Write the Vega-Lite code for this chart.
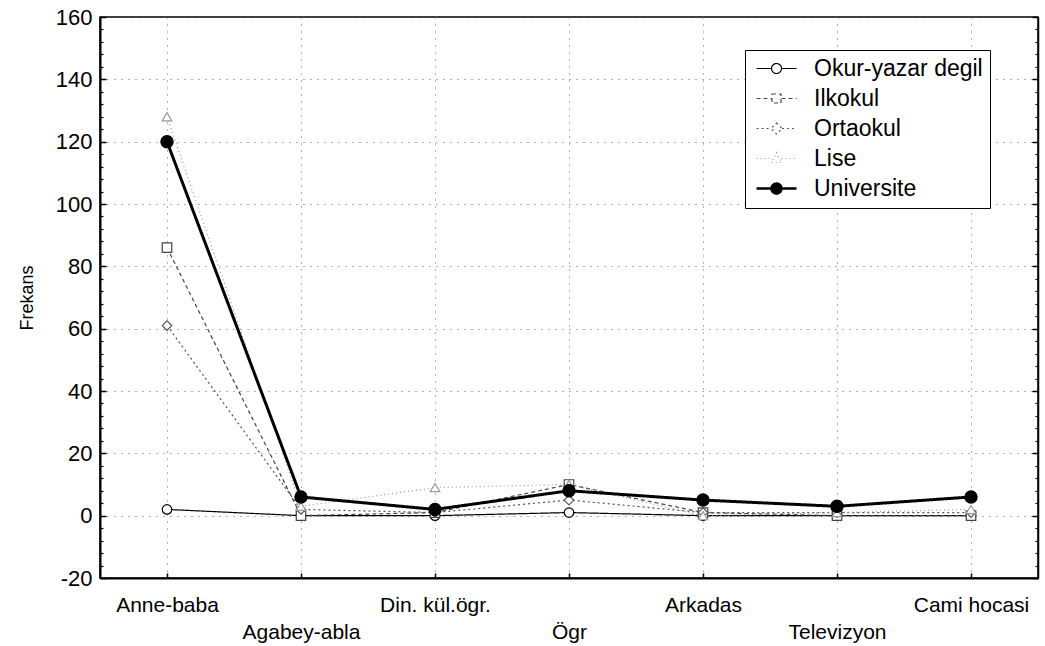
{
  "$schema": "https://vega.github.io/schema/vega-lite/v6.json",
  "width": 938,
  "height": 561,
  "autosize": {"type": "none"},
  "padding": {"left": 100, "top": 17, "right": 7, "bottom": 68},
  "background": "white",
  "data": {
    "values": [
      {"kaynak": "Anne-baba", "egitim": "Okur-yazar degil", "frekans": 2},
      {"kaynak": "Agabey-abla", "egitim": "Okur-yazar degil", "frekans": 0},
      {"kaynak": "Din. kül.ögr.", "egitim": "Okur-yazar degil", "frekans": 0},
      {"kaynak": "Ögr", "egitim": "Okur-yazar degil", "frekans": 1},
      {"kaynak": "Arkadas", "egitim": "Okur-yazar degil", "frekans": 0},
      {"kaynak": "Televizyon", "egitim": "Okur-yazar degil", "frekans": 0},
      {"kaynak": "Cami hocasi", "egitim": "Okur-yazar degil", "frekans": 0},
      {"kaynak": "Anne-baba", "egitim": "Ilkokul", "frekans": 86},
      {"kaynak": "Agabey-abla", "egitim": "Ilkokul", "frekans": 0},
      {"kaynak": "Din. kül.ögr.", "egitim": "Ilkokul", "frekans": 1},
      {"kaynak": "Ögr", "egitim": "Ilkokul", "frekans": 10},
      {"kaynak": "Arkadas", "egitim": "Ilkokul", "frekans": 1},
      {"kaynak": "Televizyon", "egitim": "Ilkokul", "frekans": 0},
      {"kaynak": "Cami hocasi", "egitim": "Ilkokul", "frekans": 0},
      {"kaynak": "Anne-baba", "egitim": "Ortaokul", "frekans": 61},
      {"kaynak": "Agabey-abla", "egitim": "Ortaokul", "frekans": 2},
      {"kaynak": "Din. kül.ögr.", "egitim": "Ortaokul", "frekans": 1},
      {"kaynak": "Ögr", "egitim": "Ortaokul", "frekans": 5},
      {"kaynak": "Arkadas", "egitim": "Ortaokul", "frekans": 1},
      {"kaynak": "Televizyon", "egitim": "Ortaokul", "frekans": 1},
      {"kaynak": "Cami hocasi", "egitim": "Ortaokul", "frekans": 1},
      {"kaynak": "Anne-baba", "egitim": "Lise", "frekans": 128},
      {"kaynak": "Agabey-abla", "egitim": "Lise", "frekans": 3},
      {"kaynak": "Din. kül.ögr.", "egitim": "Lise", "frekans": 9},
      {"kaynak": "Ögr", "egitim": "Lise", "frekans": 10},
      {"kaynak": "Arkadas", "egitim": "Lise", "frekans": 0},
      {"kaynak": "Televizyon", "egitim": "Lise", "frekans": 1},
      {"kaynak": "Cami hocasi", "egitim": "Lise", "frekans": 2},
      {"kaynak": "Anne-baba", "egitim": "Universite", "frekans": 120},
      {"kaynak": "Agabey-abla", "egitim": "Universite", "frekans": 6},
      {"kaynak": "Din. kül.ögr.", "egitim": "Universite", "frekans": 2},
      {"kaynak": "Ögr", "egitim": "Universite", "frekans": 8},
      {"kaynak": "Arkadas", "egitim": "Universite", "frekans": 5},
      {"kaynak": "Televizyon", "egitim": "Universite", "frekans": 3},
      {"kaynak": "Cami hocasi", "egitim": "Universite", "frekans": 6}
    ]
  },
  "encoding": {
    "x": {
      "field": "kaynak",
      "type": "ordinal",
      "sort": ["Anne-baba", "Agabey-abla", "Din. kül.ögr.", "Ögr", "Arkadas", "Televizyon", "Cami hocasi"],
      "scale": {"type": "point", "padding": 0.5},
      "axis": {
        "title": null,
        "labelAngle": 0,
        "labelFontSize": 21,
        "labelLineHeight": 27,
        "labelBaseline": "top",
        "labelPadding": 21,
        "labelExpr": "indexof(['Agabey-abla','Ögr','Televizyon'], datum.value) >= 0 ? ['', datum.value] : datum.value",
        "tickSize": -5,
        "tickWidth": 1.5,
        "tickColor": "black",
        "domainColor": "black",
        "domainWidth": 2,
        "grid": true,
        "gridDash": [1, 6],
        "gridColor": "#666666",
        "gridWidth": 1
      }
    },
    "y": {
      "field": "frekans",
      "type": "quantitative",
      "scale": {"domain": [-20, 160], "nice": false, "zero": false}
    }
  },
  "layer": [
    {
      "mark": {"type": "line", "strokeJoin": "round"},
      "encoding": {
        "y": {
          "field": "frekans",
          "type": "quantitative",
          "axis": {
            "orient": "left",
            "title": "Frekans",
            "titleFontSize": 18,
            "titleFontWeight": "normal",
            "titlePadding": 19,
            "values": [-20, 0, 20, 40, 60, 80, 100, 120, 140, 160],
            "labelExpr": "datum.value + ''",
            "labelFontSize": 22,
            "labelPadding": 14,
            "tickSize": -6,
            "tickWidth": 1.5,
            "tickColor": "black",
            "domainColor": "black",
            "domainWidth": 2,
            "grid": true,
            "gridDash": [1, 6],
            "gridColor": "#666666",
            "gridWidth": 1
          }
        },
        "stroke": {
          "field": "egitim",
          "type": "nominal",
          "scale": {
            "domain": ["Okur-yazar degil", "Ilkokul", "Ortaokul", "Lise", "Universite"],
            "range": ["#000000", "#444444", "#555555", "#999999", "#000000"]
          },
          "legend": {
            "title": null,
            "orient": "none",
            "legendX": 645,
            "legendY": 33,
            "strokeColor": "black",
            "fillColor": "white",
            "padding": 7,
            "labelFontSize": 23,
            "labelLimit": 400,
            "labelColor": "black",
            "symbolType": "circle",
            "symbolSize": 400,
            "symbolOffset": 13,
            "labelOffset": 26,
            "rowPadding": 6,
            "symbolStrokeWidth": 1.2,
            "encode": {
              "symbols": {
                "update": {
                  "shape": {"signal": "datum.value === 'Ilkokul' ? 'M-2,0H-0.5M0.5,0H2M-0.45,-0.45H0.45V0.45H-0.45Z' : datum.value === 'Ortaokul' ? 'M-2,0H-0.55M0.55,0H2M0,-0.55L0.55,0L0,0.55L-0.55,0Z' : datum.value === 'Lise' ? 'M-2,0H-0.5M0.5,0H2M0,-0.6L0.5,0.4H-0.5Z' : 'M-2,0H-0.5M0.5,0H2M0.5,0A0.5,0.5 0 1,1 -0.5,0A0.5,0.5 0 1,1 0.5,0Z'"},
                  "fill": {"signal": "datum.value === 'Universite' ? 'black' : 'white'"},
                  "strokeDash": {"signal": "datum.value === 'Ilkokul' ? [3,3] : datum.value === 'Ortaokul' ? [2,3] : datum.value === 'Lise' ? [1,2] : datum.value === 'Universite' ? [9,6] : [1,0]"},
                  "strokeWidth": {"signal": "datum.value === 'Universite' ? 2.5 : 1.2"}
                }
              }
            }
          }
        },
        "strokeDash": {
          "field": "egitim",
          "type": "nominal",
          "scale": {
            "domain": ["Okur-yazar degil", "Ilkokul", "Ortaokul", "Lise", "Universite"],
            "range": [[1, 0], [4, 3], [2, 3], [1, 3], [1, 0]]
          },
          "legend": null
        },
        "strokeWidth": {
          "condition": {"test": "datum.egitim === 'Universite'", "value": 3},
          "value": 1.2
        }
      }
    },
    {
      "mark": {"type": "point", "filled": false, "strokeWidth": 1.2, "opacity": 1},
      "encoding": {
        "y": {
          "field": "frekans",
          "type": "quantitative",
          "axis": {
            "orient": "right",
            "title": null,
            "labels": false,
            "values": [-20, 0, 20, 40, 60, 80, 100, 120, 140, 160],
            "tickSize": -6,
            "tickWidth": 1.5,
            "tickColor": "black",
            "domainColor": "black",
            "domainWidth": 1.5,
            "grid": false
          }
        },
        "stroke": {
          "condition": [
            {"test": "datum.egitim === 'Ilkokul'", "value": "#444444"},
            {"test": "datum.egitim === 'Ortaokul'", "value": "#555555"},
            {"test": "datum.egitim === 'Lise'", "value": "#999999"}
          ],
          "value": "black"
        },
        "fill": {
          "condition": {"test": "datum.egitim === 'Universite'", "value": "black"},
          "value": "white"
        },
        "shape": {
          "condition": [
            {"test": "datum.egitim === 'Ilkokul'", "value": "square"},
            {"test": "datum.egitim === 'Ortaokul'", "value": "diamond"},
            {"test": "datum.egitim === 'Lise'", "value": "triangle-up"}
          ],
          "value": "circle"
        },
        "size": {
          "condition": {"test": "datum.egitim === 'Universite'", "value": 150},
          "value": 90
        }
      }
    },
    {
      "mark": {"type": "point", "opacity": 0},
      "encoding": {
        "y": {
          "field": "frekans",
          "type": "quantitative",
          "axis": {
            "orient": "left",
            "title": null,
            "labels": false,
            "domain": false,
            "grid": false,
            "values": [-16, -12, -8, -4, 4, 8, 12, 16, 24, 28, 32, 36, 44, 48, 52, 56, 64, 68, 72, 76, 84, 88, 92, 96, 104, 108, 112, 116, 124, 128, 132, 136, 144, 148, 152, 156],
            "tickSize": -3,
            "tickWidth": 1.2,
            "tickColor": "black"
          }
        }
      }
    },
    {
      "mark": {"type": "point", "opacity": 0},
      "encoding": {
        "y": {
          "field": "frekans",
          "type": "quantitative",
          "axis": {
            "orient": "right",
            "title": null,
            "labels": false,
            "domain": false,
            "grid": false,
            "values": [-16, -12, -8, -4, 4, 8, 12, 16, 24, 28, 32, 36, 44, 48, 52, 56, 64, 68, 72, 76, 84, 88, 92, 96, 104, 108, 112, 116, 124, 128, 132, 136, 144, 148, 152, 156],
            "tickSize": -3,
            "tickWidth": 1.2,
            "tickColor": "black"
          }
        }
      }
    }
  ],
  "resolve": {"scale": {"y": "shared"}, "axis": {"y": "independent"}},
  "config": {
    "font": "Liberation Sans",
    "view": {"stroke": "black", "strokeWidth": 1.5},
    "axis": {"labelColor": "black", "titleColor": "black", "labelFont": "Liberation Sans", "titleFont": "Liberation Sans"},
    "legend": {"labelFont": "Liberation Sans"}
  }
}
